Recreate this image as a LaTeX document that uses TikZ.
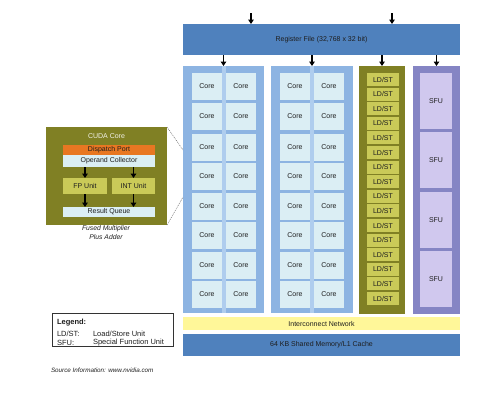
\documentclass[tikz,border=0pt]{standalone}
\usepackage{fontspec}
\setmainfont{Liberation Sans}
\usetikzlibrary{arrows.meta}
\definecolor{rfblue}{RGB}{79,129,189}
\definecolor{blkblue}{RGB}{141,180,226}
\definecolor{seamblue}{RGB}{175,205,238}
\definecolor{cellblue}{RGB}{219,238,244}
\definecolor{olive}{RGB}{128,128,36}
\definecolor{ldcell}{RGB}{202,202,88}
\definecolor{sfupurple}{RGB}{133,133,196}
\definecolor{sfucell}{RGB}{208,200,238}
\definecolor{icyellow}{RGB}{255,247,153}
\definecolor{dporange}{RGB}{232,119,34}
\definecolor{txtdark}{RGB}{30,30,30}
\tikzset{
  box/.style={draw=none, inner sep=0pt, outer sep=0pt, font=\fontsize{7}{8}\selectfont, text=txtdark},
  corecell/.style={box, fill=cellblue, minimum width=30pt, minimum height=27pt, anchor=north west},
  ldcell/.style={box, fill=ldcell, minimum width=32pt, minimum height=13pt, anchor=north west},
  sfucell/.style={box, fill=sfucell, minimum width=32pt, minimum height=56pt, anchor=north west},
  feed/.style={line width=1.2pt, -{Triangle[length=4.5pt,width=5.5pt]}},
  zoomline/.style={draw=black!70, line width=0.4pt, dash pattern=on 1pt off 1pt},
  legtext/.style={box, font=\fontsize{7.5}{9}\selectfont, anchor=west},
}
\begin{document}
\begin{tikzpicture}[x=1pt,y=-1pt]
\useasboundingbox (0,0) rectangle (489,400);
% register file
\node[box, fill=rfblue, minimum width=277pt, minimum height=31pt, anchor=north west] (rf) at (183,24) {Register File (32,768 x 32 bit)};
\coordinate (in1) at (251,13);
\coordinate (in2) at (392,13);
\draw[feed] (in1) -- (in1 |- rf.north);
\draw[feed] (in2) -- (in2 |- rf.north);
% core blocks
\node[box, fill=blkblue, minimum width=81pt, minimum height=247pt, anchor=north west] (blk1) at (183,66) {};
\node[box, fill=blkblue, minimum width=82pt, minimum height=247pt, anchor=north west] (blk2) at (271,66) {};
\fill[seamblue] (222,66) rectangle (226,313);
\fill[seamblue] (310,66) rectangle (314,313);
\foreach \r/\t in {1/73,2/103,3/134,4/163,5/193,6/222,7/252,8/281}{
  \node[corecell] (c1-\r-a) at (192,\t) {Core};
  \node[corecell] (c1-\r-b) at (226,\t) {Core};
  \node[corecell] (c2-\r-a) at (280,\t) {Core};
  \node[corecell] (c2-\r-b) at (314,\t) {Core};
}
% LD/ST column
\node[box, fill=olive, minimum width=46pt, minimum height=248pt, anchor=north west] (ld) at (359,66) {};
\foreach \i in {0,...,15}{
  \node[ldcell] (ld-\i) at (367,{73+\i*14.6}) {LD/ST};
}
% SFU column
\node[box, fill=sfupurple, minimum width=47pt, minimum height=248pt, anchor=north west] (sfu) at (413,66) {};
\foreach \i/\t in {1/73,2/132,3/192,4/251}{
  \node[sfucell] (sfu-\i) at (420,\t) {SFU};
}
% feeds from register file
\foreach \b in {blk1,blk2,ld,sfu}{
  \draw[feed] (rf.south -| \b.north) -- (\b.north);
}
% interconnect and shared memory
\node[box, fill=icyellow, minimum width=277pt, minimum height=13pt, anchor=north west] (ic) at (183,317) {Interconnect Network};
\node[box, fill=rfblue, minimum width=277pt, minimum height=22pt, anchor=north west] (sm) at (183,334) {64 KB Shared Memory/L1 Cache};
% CUDA core detail
\node[box, fill=olive, minimum width=121pt, minimum height=98pt, anchor=north west] (cc) at (46,127) {};
\node[box, text=white!90!olive, anchor=center] (cctitle) at (106.5,136) {CUDA Core};
\node[box, fill=dporange, minimum width=92pt, minimum height=10pt, anchor=north west] (dp) at (63,145) {Dispatch Port};
\node[box, fill=cellblue, minimum width=92pt, minimum height=12pt, anchor=north west] (oc) at (63,155) {Operand Collector};
\node[box, fill=ldcell, minimum width=44pt, minimum height=16pt, anchor=north west] (fp) at (63,178) {FP Unit};
\node[box, fill=ldcell, minimum width=43pt, minimum height=16pt, anchor=north west] (int) at (112,178) {INT Unit};
\node[box, fill=cellblue, minimum width=92pt, minimum height=10pt, anchor=north west] (rq) at (63,207) {Result Queue};
\draw[feed] (oc.south -| fp.north) -- (fp.north);
\draw[feed] (oc.south -| int.north) -- (int.north);
\draw[feed] (fp.south) -- (rq.north -| fp.south);
\draw[feed] (int.south) -- (rq.north -| int.south);
\node[box, font=\fontsize{6.8}{8.5}\selectfont\itshape, align=center, anchor=north] (cap) at (106,226) {Fused Multiplier\\Plus Adder};
\coordinate (z1) at (183,150);
\coordinate (z2) at (183,197);
\draw[zoomline] (cc.north east) -- (z1);
\draw[zoomline] (cc.south east) -- (z2);
% legend
\node[draw=black!80, line width=0.5pt, minimum width=121pt, minimum height=33pt, anchor=north west, inner sep=0pt] (leg) at (52,313) {};
\node[legtext, font=\fontsize{7.5}{9}\selectfont\bfseries] (legt) at (57,323) {Legend:};
\node[legtext] (l1a) at (57,333.5) {LD/ST:};
\node[legtext] (l1b) at (93,333.5) {Load/Store Unit};
\node[legtext] (l2a) at (57,343) {SFU:};
\node[legtext] (l2b) at (93,343) {Special Function Unit};
\node[box, font=\fontsize{6.3}{7}\selectfont\itshape, anchor=west] (src) at (51,370) {Source Information: www.nvidia.com};
\end{tikzpicture}
\end{document}
